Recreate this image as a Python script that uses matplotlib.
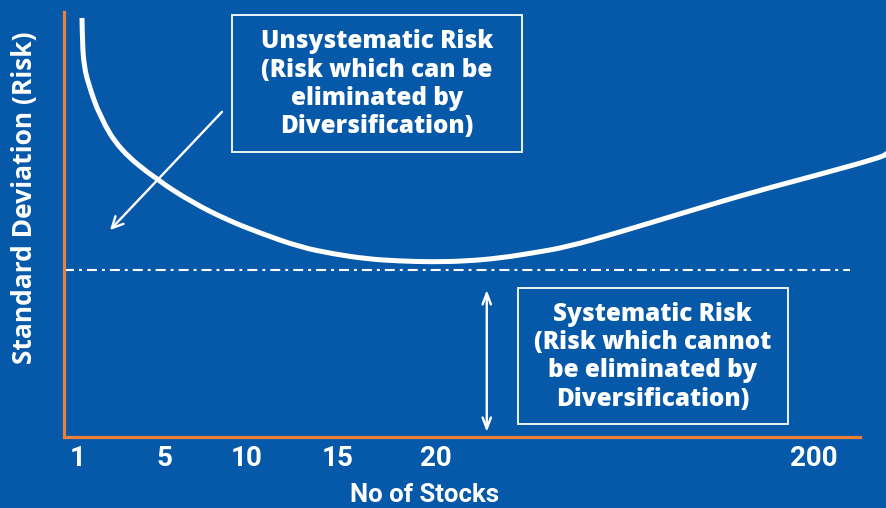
import matplotlib.pyplot as plt
from matplotlib.patches import Rectangle, PathPatch
from matplotlib.path import Path

BG = "#0658a9"
ORANGE = "#e9813a"
WHITE = "#ffffff"

tick_pos = [0, 0.97, 1.9, 2.93, 4.03, 8.3]
tick_labels = ["1", "5", "10", "15", "20", "200"]

# risk curve (x in tick units, y in % of axis height)
curve_x = [0.045, 0.05, 0.07, 0.113, 0.248, 0.473, 0.89, 1.296, 1.679,
           2.051, 2.501, 2.873, 3.256, 3.628, 4.0, 4.383, 4.755, 5.127,
           5.51, 6.073, 6.817, 7.572, 8.327, 9.07, 9.12]
curve_y = [98.6, 92.0, 87.3, 83.3, 75.3, 67.5, 60.5, 55.1, 51.1,
           48.0, 44.7, 43.1, 41.9, 41.4, 41.2, 41.4, 42.1, 43.3,
           44.7, 48.0, 52.7, 57.4, 61.6, 65.9, 66.8]
systematic_level = 39.3

unsys_text = "Unsystematic Risk\n(Risk which can be\neliminated by\nDiversification)"
sys_text = "Systematic Risk\n(Risk which cannot\nbe eliminated by\nDiversification)"


def smooth_path(xs, ys):
    # quadratic bezier through midpoints, read points act as control points
    pts = list(zip(xs, ys))
    verts = [pts[0]]
    codes = [Path.MOVETO]
    for i in range(1, len(pts) - 1):
        mid = ((pts[i][0] + pts[i + 1][0]) / 2, (pts[i][1] + pts[i + 1][1]) / 2)
        verts += [pts[i], mid]
        codes += [Path.CURVE3, Path.CURVE3]
    verts.append(pts[-1])
    codes.append(Path.LINETO)
    return Path(verts, codes)


fig = plt.figure(figsize=(8.87, 5.08), dpi=100, facecolor=BG)
ax = fig.add_axes([64 / 887, 1 - 437 / 508, 1 - 64 / 887, (437 - 12) / 508])
ax.set_facecolor(BG)
ax.set_xlim(-0.158, 9.12)
ax.set_ylim(0, 100)

for side in ["top", "right"]:
    ax.spines[side].set_visible(False)
for side in ["left", "bottom"]:
    ax.spines[side].set_color(ORANGE)
    ax.spines[side].set_linewidth(2.3)
ax.spines["bottom"].set_bounds(-0.158, 8.82)

ax.add_patch(PathPatch(smooth_path(curve_x, curve_y), fill=False,
                       edgecolor=WHITE, lw=3.6, capstyle="butt",
                       joinstyle="round", clip_on=False))
ax.plot([-0.158, 8.7], [systematic_level, systematic_level], color=WHITE, lw=1.5,
        linestyle=(0, (4.8, 2.4, 1.4, 2.4)))

ax.set_xticks(tick_pos)
ax.set_xticklabels(tick_labels, fontsize=20, fontweight="bold", color=WHITE,
                   family="Roboto")
ax.tick_params(axis="x", length=0, pad=6)
ax.set_yticks([])

fig.text(425 / 887, 1 - 495 / 508, "No of Stocks", ha="center", va="center",
         fontsize=18.5, fontweight="bold", color=WHITE, family="Roboto")
fig.text(25 / 887, 1 - 198 / 508, "Standard Deviation (Risk)", rotation=90,
         ha="center", va="center", fontsize=19, fontweight="bold", color=WHITE,
         family="Open Sans")

ax.add_patch(Rectangle((1.735, 67.06), 5.003 - 1.735, 99.3 - 67.06,
                       facecolor=BG, edgecolor=WHITE, lw=1.3, zorder=3))
ax.add_patch(Rectangle((4.958, 3.06), 8.0 - 4.958, 35.06 - 3.06,
                       facecolor=BG, edgecolor=WHITE, lw=1.3, zorder=3))
ax.text(3.369, 83.0, unsys_text, ha="center", va="center", fontsize=17.5,
        fontweight="heavy", color=WHITE, family="Open Sans", linespacing=1.17,
        zorder=4)
ax.text(6.479, 18.9, sys_text, ha="center", va="center", fontsize=17.5,
        fontweight="heavy", color=WHITE, family="Open Sans", linespacing=1.17,
        zorder=4)

ax.annotate("", xy=(0.361, 48.7), xytext=(1.623, 76.5),
            arrowprops=dict(arrowstyle="->,head_length=0.8,head_width=0.4",
                            color=WHITE, lw=1.7, shrinkA=0, shrinkB=0))
ax.annotate("", xy=(4.608, 1.18), xytext=(4.608, 34.6),
            arrowprops=dict(arrowstyle="<->,head_length=0.8,head_width=0.3",
                            color=WHITE, lw=1.7, shrinkA=0, shrinkB=0))

fig.savefig("out.png", dpi=100, facecolor=BG)
